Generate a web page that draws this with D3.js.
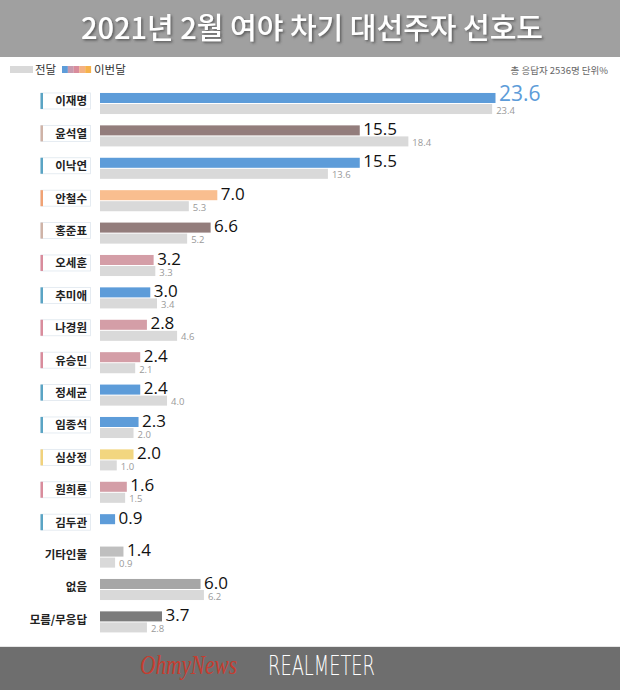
<!DOCTYPE html>
<html><head><meta charset="utf-8">
<script src="https://cdn.jsdelivr.net/npm/d3@7"></script>
<style>
html,body{margin:0;padding:0;background:#fff;}
svg{display:block;}
</style></head>
<body>
<svg id="chart" width="620" height="690"></svg>
<script>
const categories = ["이재명","윤석열","이낙연","안철수","홍준표","오세훈","추미애","나경원","유승민","정세균","임종석","심상정","원희룡","김두관","기타인물","없음","모름/무응답"];
const current  = [23.6, 15.5, 15.5, 7.0, 6.6, 3.2, 3.0, 2.8, 2.4, 2.4, 2.3, 2.0, 1.6, 0.9, 1.4, 6.0, 3.7];
const previous = [23.4, 18.4, 13.6, 5.3, 5.2, 3.3, 3.4, 4.6, 2.1, 4.0, 2.0, 1.0, 1.5, null, 0.9, 6.2, 2.8];
const groups   = ["blue","mauve","blue","orange","mauve","pink","blue","pink","pink","blue","blue","yellow","pink","blue","etc","none","dk"];
const titleText = "2021년 2월 여야 차기 대선주자 선호도";
const legendLabels = ["전달", "이번달"];
const noteText = "총 응답자 2536명  단위%";

const barColor = {blue:"#5d9cd9", mauve:"#937d7c", orange:"#f9be8f", pink:"#d49ea7", yellow:"#f2d680", etc:"#bfbfbf", none:"#a6a6a6", dk:"#7c7c7c"};
const accentColor = {blue:"#5aa4c4", mauve:"#cfb3a7", orange:"#f0a274", pink:"#d98c9c", yellow:"#f1d27c"};
const prevColor = "#d9d9d9";

const svg = d3.select("#chart");
const W = 620, H = 690;

const defs = svg.append("defs");
const f = defs.append("filter").attr("id","shadow").attr("x","-5%").attr("y","-20%").attr("width","110%").attr("height","150%");
f.append("feDropShadow").attr("dx",1.5).attr("dy",1.5).attr("stdDeviation",1).attr("flood-color","#444").attr("flood-opacity",0.75);

// Title band
svg.append("rect").attr("x",0).attr("y",0).attr("width",W).attr("height",57).attr("fill","#a0a0a0");
svg.append("text").attr("x",W/2 + 2).attr("y",39).attr("text-anchor","middle")
  .attr("font-family","'Noto Sans CJK KR', sans-serif").attr("font-weight",500).attr("font-size",29)
  .attr("fill","#fff").attr("filter","url(#shadow)").text(titleText);

// Legend
const lg = svg.append("g").attr("font-family","'Noto Sans CJK KR', sans-serif").attr("font-size",11.5).attr("fill","#333");
lg.append("rect").attr("x",10).attr("y",66).attr("width",23).attr("height",7).attr("fill",prevColor);
lg.append("text").attr("x",35).attr("y",74).text(legendLabels[0]);
const segCols = ["#5d9cd9","#c79aae","#d98c9c","#f4b183","#f6b24c"];
segCols.forEach((c,i)=>{
  lg.append("rect").attr("x",62+i*5.8).attr("y",66).attr("width",5.9).attr("height",7).attr("fill",c);
});
lg.append("text").attr("x",94).attr("y",74).text(legendLabels[1]);
svg.append("text").attr("x",608).attr("y",74).attr("text-anchor","end")
  .attr("font-family","'Noto Sans CJK KR', sans-serif").attr("font-size",9.5).attr("fill","#666").text(noteText);

// Scales
const x = d3.scaleLinear().domain([0, 23.6]).range([100, 495.5]);
const y = d3.scaleBand().domain(categories).range([87.3, 638.1]).paddingInner(0.35).paddingOuter(0.175);
const bw = y.bandwidth();
const hb = bw/2 - 0.5;

const data = categories.map((c,i)=>({c, cur:current[i], prev:previous[i], g:groups[i]}));

const rows = svg.append("g").selectAll("g").data(data).join("g")
  .attr("transform", d=>`translate(0,${y(d.c)})`);

// label boxes
const boxed = rows.filter(d=>accentColor[d.g]);
boxed.append("rect").attr("x",41).attr("y",0).attr("width",49.5).attr("height",16)
  .attr("fill","#fff").attr("stroke","#dfe7ee").attr("stroke-width",0.8);
boxed.append("rect").attr("x",40.5).attr("y",0).attr("width",2.5).attr("height",16)
  .attr("fill",d=>accentColor[d.g]);
rows.append("text").attr("x",87).attr("y",12.5).attr("text-anchor","end")
  .attr("font-family","'Noto Sans CJK KR', sans-serif").attr("font-weight",700).attr("font-size",11.5)
  .attr("fill","#222").text(d=>d.c);

// current bars
rows.append("rect").attr("x",x(0)).attr("y",0).attr("height",hb)
  .attr("width",d=>x(d.cur)-x(0)).attr("fill",d=>barColor[d.g]);
// previous bars
rows.filter(d=>d.prev!=null).append("rect").attr("x",x(0)).attr("y",hb+1).attr("height",hb)
  .attr("width",d=>x(d.prev)-x(0)).attr("fill",prevColor);

// current labels
rows.append("text")
  .attr("x",d=>x(d.cur)+3.5).attr("y",d=> d.c===categories[0] ? hb-2.5 : hb-0.5)
  .attr("font-family","'Open Sans', sans-serif")
  .attr("font-size",d=> d.c===categories[0] ? 21 : 17)
  .attr("fill",d=> d.c===categories[0] ? "#5d9cd9" : "#111")
  .text(d=>d.cur.toFixed(1));
// previous labels
rows.filter(d=>d.prev!=null).append("text")
  .attr("x",d=>x(d.prev)+4).attr("y",2*hb+0.5)
  .attr("font-family","'Open Sans', sans-serif").attr("font-size",9.5).attr("fill","#9a9a9a")
  .text(d=>d.prev.toFixed(1));

// Footer
svg.append("rect").attr("x",0).attr("y",646).attr("width",W).attr("height",1).attr("fill","#e6e6e6");
svg.append("rect").attr("x",0).attr("y",647).attr("width",W).attr("height",H-647).attr("fill","#6e6e6e");
svg.append("text").attr("x",140).attr("y",674).attr("textLength",97).attr("lengthAdjust","spacingAndGlyphs")
  .attr("font-family","'Liberation Serif', serif").attr("font-style","italic").attr("font-size",27)
  .attr("fill","#c63d30").text("OhmyNews");
svg.append("text").attr("x",268).attr("y",675).attr("textLength",107).attr("lengthAdjust","spacingAndGlyphs")
  .attr("font-family","'DejaVu Sans', sans-serif").attr("font-weight",200).attr("font-size",27)
  .attr("fill","#fff").text("REALMETER");
</script>
</body></html>
